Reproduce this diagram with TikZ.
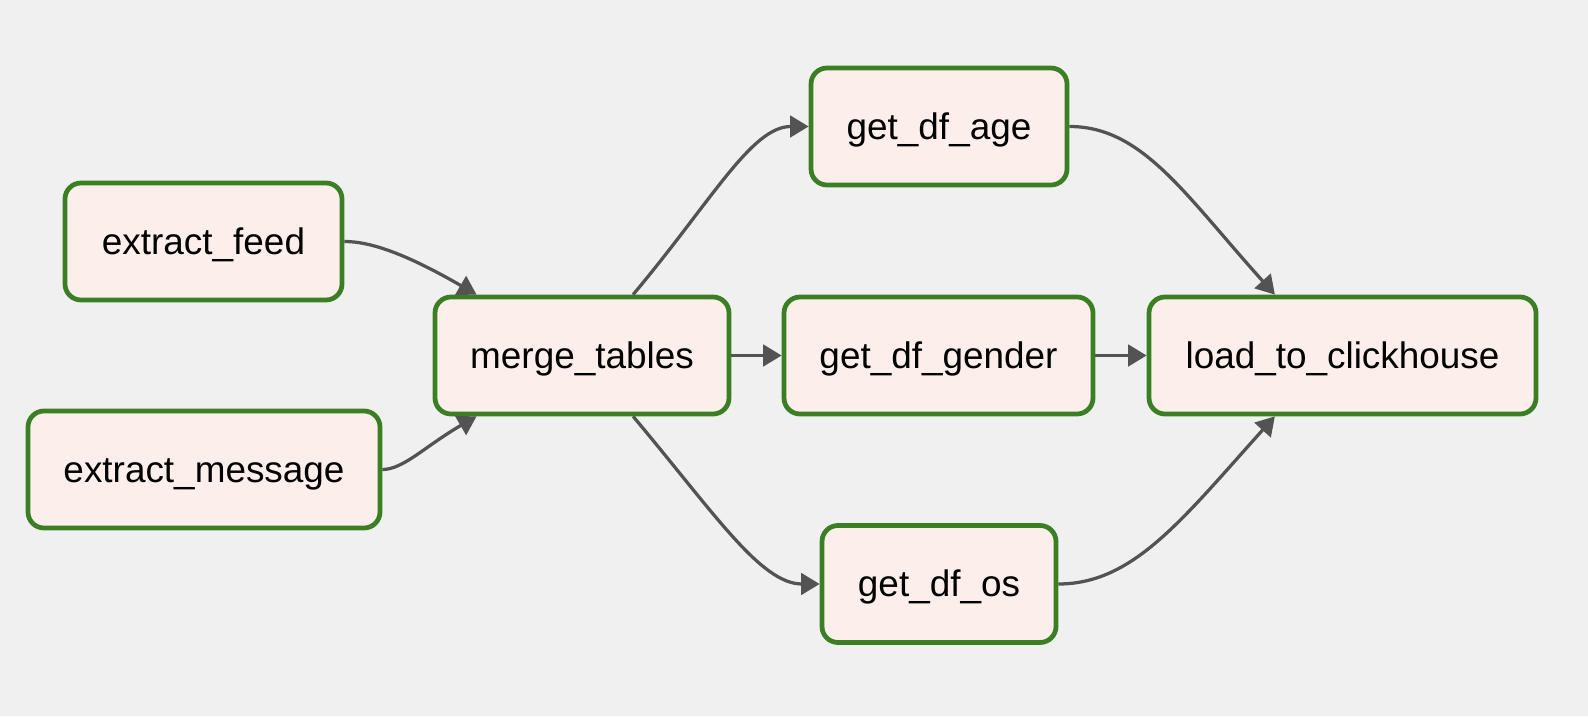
\documentclass[tikz,border=0pt]{standalone}
\usepackage{fontspec}
\setsansfont{Liberation Sans}
\usepackage{xcolor}
\usepackage{tikz}
\usetikzlibrary{arrows.meta}
\definecolor{taskgreen}{HTML}{3B7F24}
\definecolor{taskfill}{HTML}{FCEFEB}
\definecolor{canvas}{HTML}{F0F0F0}
\definecolor{flowgray}{HTML}{535353}

\begin{document}
\begin{tikzpicture}[
    task/.style={draw=taskgreen,fill=taskfill,line width=0.095cm,
        rounded corners=0.32cm,minimum height=2.34cm,inner sep=0pt,
        text height=18.9pt,text depth=4.2pt,
        font={\fontsize{21}{25}\sffamily}},
    flow/.style={draw=flowgray,line width=0.065cm,
        -{Triangle[length=3.7mm,width=4.3mm]}},
    ]
    % Background
    \fill[canvas] (0,0) rectangle (31.76,14.32);
    % Extract tasks
    \node[task,minimum width=5.54cm] (extractfeed) at (4.07,9.49) {extract\_feed};
    \node[task,minimum width=7.04cm] (extractmessage) at (4.08,4.93) {extract\_message};
    % Merge
    \node[task,minimum width=5.88cm] (mergetables) at (11.64,7.21) {merge\_tables};
    % Frames
    \node[task,minimum width=5.12cm] (dfage) at (18.78,11.79) {get\_df\_age};
    \node[task,minimum width=6.18cm] (dfgender) at (18.77,7.21) {get\_df\_gender};
    \node[task,minimum width=4.68cm] (dfos) at (18.78,2.64) {get\_df\_os};
    % Load
    \node[task,minimum width=7.74cm] (load) at (26.85,7.21) {load\_to\_clickhouse};

    % Connectors
    \draw[flow] (extractfeed.east) to[out=0,in=150,
        out looseness=0.5,in looseness=1.4] (mergetables.150);
    \draw[flow] (extractmessage.east) to[out=0,in=210,
        out looseness=0.5,in looseness=1.4] (mergetables.210);
    \draw[flow] (mergetables.50) to[out=50,in=180,
        out looseness=1.3,in looseness=0.6] (dfage.west);
    \draw[flow] (mergetables.east) -- (dfgender.west);
    \draw[flow] (mergetables.-50) to[out=-50,in=180,
        out looseness=1.3,in looseness=0.6] (dfos.west);
    \draw[flow] (dfage.east) to[out=0,in=132,
        out looseness=0.7,in looseness=1.3] (load.138);
    \draw[flow] (dfgender.east) -- (load.west);
    \draw[flow] (dfos.east) to[out=0,in=228,
        out looseness=0.7,in looseness=1.3] (load.222);
\end{tikzpicture}
\end{document}
